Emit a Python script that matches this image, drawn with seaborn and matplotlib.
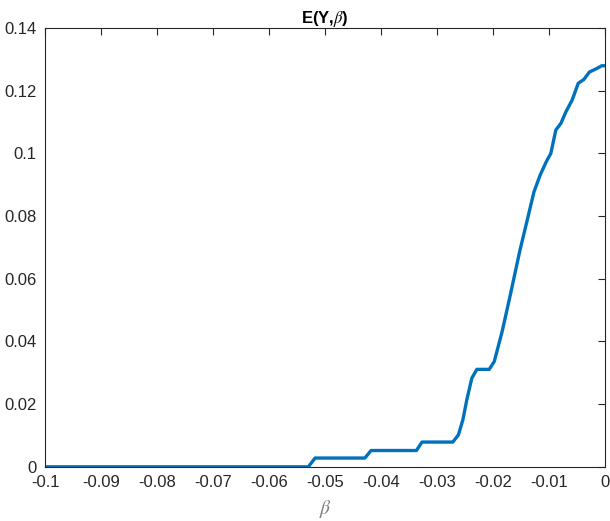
import pandas as pd
import seaborn as sns
import matplotlib.pyplot as plt

beta = [-0.1, -0.053, -0.0518, -0.0429, -0.0418, -0.0337, -0.0327, -0.0272,
        -0.0262, -0.0254, -0.0247, -0.0238, -0.0229, -0.0207, -0.0198,
        -0.0184, -0.0170, -0.0152, -0.0139, -0.0127, -0.0116, -0.0105,
        -0.0097, -0.0088, -0.0079, -0.0070, -0.0059, -0.0048, -0.0038,
        -0.0028, -0.0015, -0.0006, 0.0]
ey = [0.0, 0.0, 0.0028, 0.0028, 0.0052, 0.0052, 0.0079, 0.0079,
      0.0102, 0.0150, 0.0214, 0.0283, 0.0311, 0.0311, 0.0336,
      0.0431, 0.0543, 0.0692, 0.0788, 0.0878, 0.0931, 0.0974,
      0.1000, 0.1075, 0.1096, 0.1133, 0.1170, 0.1224, 0.1236,
      0.1260, 0.1271, 0.1280, 0.1280]

xticks = [-0.1, -0.09, -0.08, -0.07, -0.06, -0.05, -0.04, -0.03, -0.02, -0.01, 0]
xticklabels = ["-0.1", "-0.09", "-0.08", "-0.07", "-0.06", "-0.05",
               "-0.04", "-0.03", "-0.02", "-0.01", "0"]
yticks = [0, 0.02, 0.04, 0.06, 0.08, 0.1, 0.12, 0.14]
yticklabels = ["0", "0.02", "0.04", "0.06", "0.08", "0.1", "0.12", "0.14"]

df = pd.DataFrame({"beta": beta, "EY": ey})

sns.set_style("white")
plt.rcParams['font.family'] = ['Liberation Sans', 'DejaVu Sans']
plt.rcParams['mathtext.fontset'] = 'stix'

fig = plt.figure(figsize=(6.1, 5.21), dpi=100)
ax = fig.add_axes([0.074, 0.104, 0.918, 0.842])

sns.lineplot(data=df, x="beta", y="EY", color="#0072BD", linewidth=2.4, ax=ax)

ax.set_xlim(-0.1, 0)
ax.set_ylim(0, 0.14)
ax.set_xticks(xticks)
ax.set_xticklabels(xticklabels)
ax.set_yticks(yticks)
ax.set_yticklabels(yticklabels)
ax.tick_params(direction="in", length=5, width=0.8, top=True, right=True,
               labelsize=12, colors="#262626", pad=6)
for s in ax.spines.values():
    s.set_color("#262626")
    s.set_linewidth(0.8)

ax.set_xlabel(r"$\beta$", fontsize=14, color="#808080", labelpad=6)
ax.set_ylabel("")
ax.set_title(r"E(Y,$\beta$)", fontsize=12, fontweight="bold", color="#000000", pad=4)

plt.savefig("out.png", dpi=100)
